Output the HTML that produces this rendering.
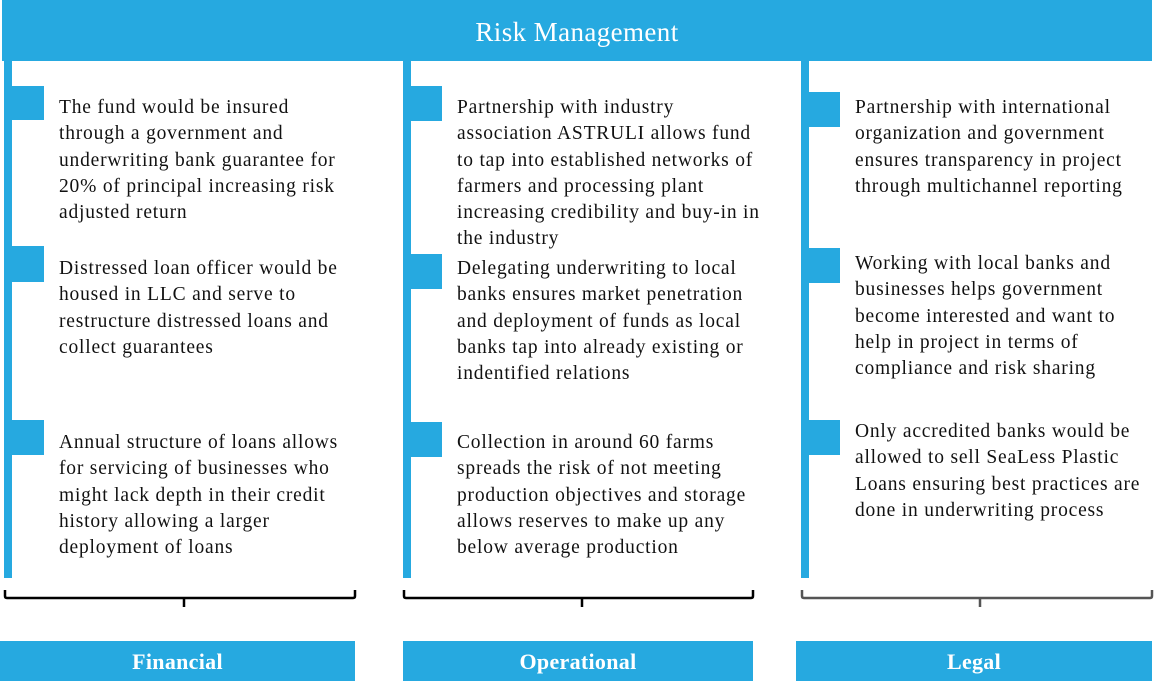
<!DOCTYPE html>
<html><head><meta charset="utf-8"><style>
body{margin:0;width:1154px;height:692px;background:#fff;position:relative;overflow:hidden;font-family:"Liberation Serif",serif;}
.a{position:absolute}
.b{background:#26a9e0}
.t{position:absolute;font-size:19.5px;line-height:26.3px;color:#111;white-space:nowrap;letter-spacing:0.8px}
.lab{position:absolute;top:641px;height:40px;line-height:42px;color:#fff;font-weight:bold;font-size:22px;text-align:center;letter-spacing:0.3px}
</style></head><body>
<div class="a b" style="left:2px;top:0;width:1150px;height:61px;color:#fff;font-size:27px;letter-spacing:0.4px;text-align:center;line-height:64px">Risk Management</div>

<div class="a b" style="left:4px;top:61px;width:8px;height:517px"></div>
<div class="a b" style="left:403px;top:61px;width:8px;height:517px"></div>
<div class="a b" style="left:801px;top:61px;width:8px;height:517px"></div>

<div class="a b" style="left:12px;top:86px;width:32px;height:34px"></div>
<div class="a b" style="left:12px;top:246px;width:32px;height:36px"></div>
<div class="a b" style="left:12px;top:420px;width:32px;height:35px"></div>
<div class="a b" style="left:411px;top:86px;width:31px;height:35px"></div>
<div class="a b" style="left:411px;top:254px;width:31px;height:35px"></div>
<div class="a b" style="left:411px;top:422px;width:31px;height:35px"></div>
<div class="a b" style="left:809px;top:92px;width:31px;height:35px"></div>
<div class="a b" style="left:809px;top:248px;width:31px;height:35px"></div>
<div class="a b" style="left:809px;top:420px;width:31px;height:35px"></div>

<div class="t" style="left:59px;top:95px">The fund would be insured<br>through a government and<br>underwriting bank guarantee for<br>20% of principal increasing risk<br>adjusted return</div>
<div class="t" style="left:59px;top:256px">Distressed loan officer would be<br>housed in LLC and serve to<br>restructure distressed loans and<br>collect guarantees</div>
<div class="t" style="left:59px;top:430px">Annual structure of loans allows<br>for servicing of businesses who<br>might lack depth in their credit<br>history allowing a larger<br>deployment of loans</div>

<div class="t" style="left:457px;top:95px">Partnership with industry<br>association ASTRULI allows fund<br>to tap into established networks of<br>farmers and processing plant<br>increasing credibility and buy-in in<br>the industry</div>
<div class="t" style="left:457px;top:256px">Delegating underwriting to local<br>banks ensures market penetration<br>and deployment of funds as local<br>banks tap into already existing or<br>indentified relations</div>
<div class="t" style="left:457px;top:430px">Collection in around 60 farms<br>spreads the risk of not meeting<br>production objectives and storage<br>allows reserves to make up any<br>below average production</div>

<div class="t" style="left:855px;top:95px">Partnership with international<br>organization and government<br>ensures transparency in project<br>through multichannel reporting</div>
<div class="t" style="left:855px;top:251px">Working with local banks and<br>businesses helps government<br>become interested and want to<br>help in project in terms of<br>compliance and risk sharing</div>
<div class="t" style="left:855px;top:419px">Only accredited banks would be<br>allowed to sell SeaLess Plastic<br>Loans ensuring best practices are<br>done in underwriting process</div>

<svg class="a" style="left:0;top:0" width="1154" height="692">
<g fill="none" stroke-width="2.5">
<path d="M5 590 v6 q0 2 2 2 h346 q2 0 2-2 v-6 M184 598 v9" stroke="#000"/>
<path d="M404 590 v6 q0 2 2 2 h345 q2 0 2-2 v-6 M582 598 v9" stroke="#000"/>
<path d="M802 590 v6 q0 2 2 2 h346 q2 0 2-2 v-6 M980 598 v9" stroke="#555"/>
</g></svg>

<div class="lab b" style="left:0;width:355px">Financial</div>
<div class="lab b" style="left:403px;width:350px">Operational</div>
<div class="lab b" style="left:796px;width:356px">Legal</div>
</body></html>
